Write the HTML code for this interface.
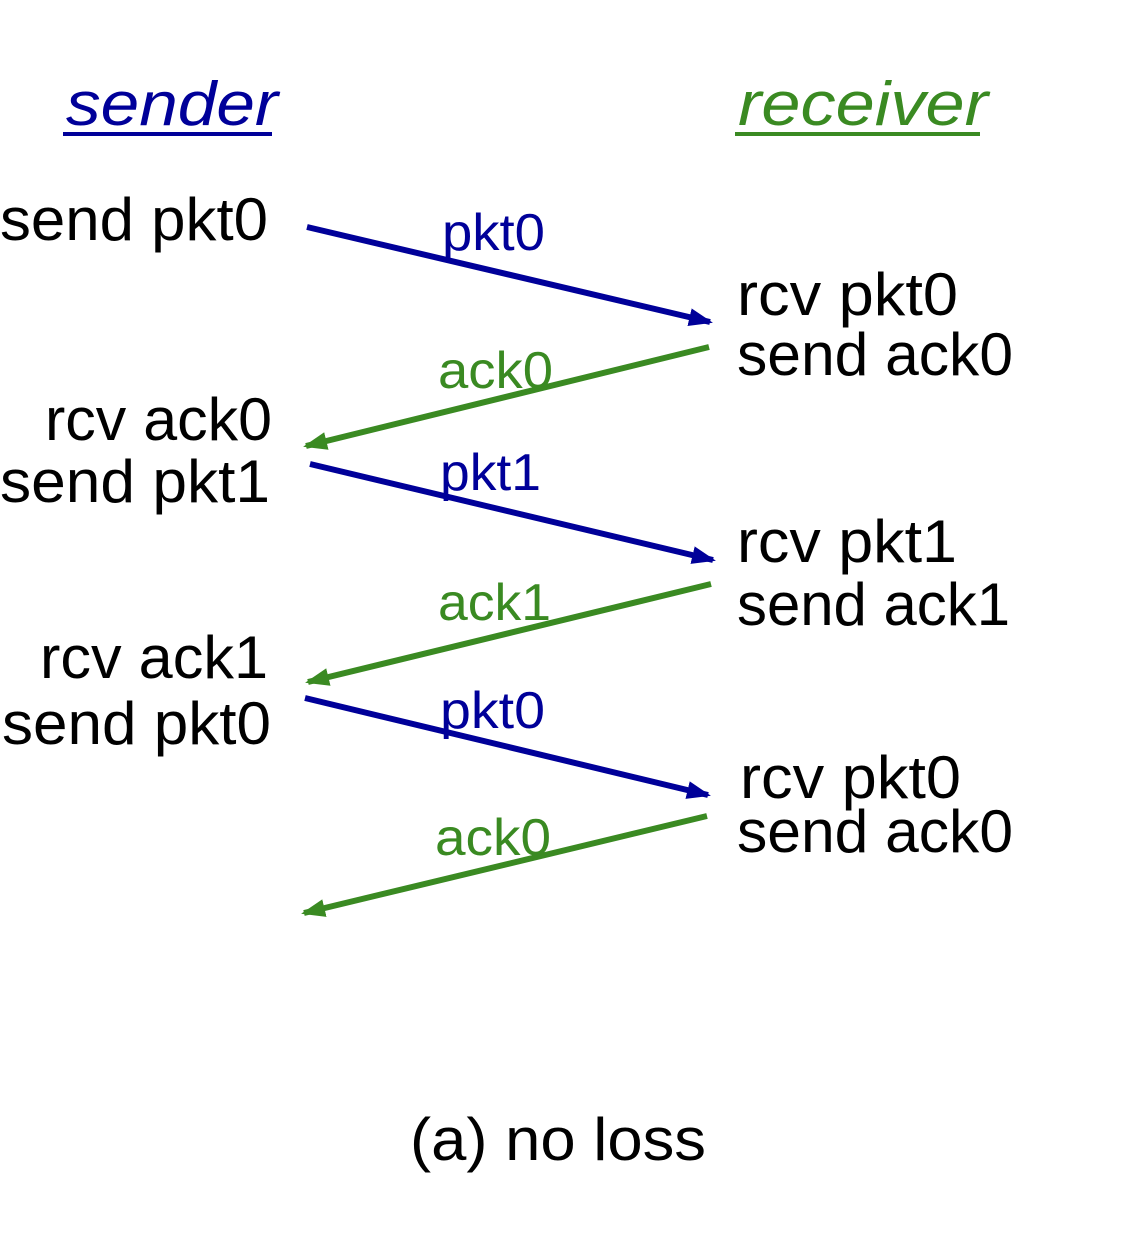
<!DOCTYPE html>
<html><head><meta charset="utf-8"><style>
html,body{margin:0;padding:0;background:#fff;}
svg{display:block;}
text{font-family:"Liberation Sans",sans-serif;}
</style></head><body>
<svg width="1122" height="1244" viewBox="0 0 1122 1244" xmlns="http://www.w3.org/2000/svg">
<defs>
<marker id="hb" markerWidth="4" markerHeight="3" refX="3.5" refY="1.5" orient="auto" markerUnits="strokeWidth"><path d="M0,0 L4,1.5 L0,3 Z" fill="#000099"/></marker>
<marker id="hg" markerWidth="4" markerHeight="3" refX="3.5" refY="1.5" orient="auto" markerUnits="strokeWidth"><path d="M0,0 L4,1.5 L0,3 Z" fill="#3a8a22"/></marker>
</defs>
<text x="66" y="125" font-size="62" font-style="italic" fill="#000099" textLength="212" lengthAdjust="spacingAndGlyphs">sender</text>
<line x1="63" y1="134" x2="272" y2="134" stroke="#000099" stroke-width="4"/>
<text x="738" y="125" font-size="62" font-style="italic" fill="#3a8a22" textLength="250" lengthAdjust="spacingAndGlyphs">receiver</text>
<line x1="735" y1="134" x2="980" y2="134" stroke="#3a8a22" stroke-width="4"/>

<g font-size="60" fill="#000">
<text x="0" y="240" textLength="268" lengthAdjust="spacingAndGlyphs">send pkt0</text>
<text x="45" y="440" textLength="227" lengthAdjust="spacingAndGlyphs">rcv ack0</text>
<text x="0" y="502" textLength="270" lengthAdjust="spacingAndGlyphs">send pkt1</text>
<text x="40" y="678" textLength="228" lengthAdjust="spacingAndGlyphs">rcv ack1</text>
<text x="2" y="744" textLength="269" lengthAdjust="spacingAndGlyphs">send pkt0</text>
<text x="737" y="315" textLength="221" lengthAdjust="spacingAndGlyphs">rcv pkt0</text>
<text x="737" y="375" textLength="276" lengthAdjust="spacingAndGlyphs">send ack0</text>
<text x="737" y="562" textLength="220" lengthAdjust="spacingAndGlyphs">rcv pkt1</text>
<text x="737" y="625" textLength="273" lengthAdjust="spacingAndGlyphs">send ack1</text>
<text x="740" y="798" textLength="221" lengthAdjust="spacingAndGlyphs">rcv pkt0</text>
<text x="737" y="852" textLength="276" lengthAdjust="spacingAndGlyphs">send ack0</text>
<text x="410" y="1160" textLength="296" lengthAdjust="spacingAndGlyphs">(a) no loss</text>
</g>

<g stroke-width="6" fill="none">
<line x1="307" y1="227" x2="710" y2="322" stroke="#000099" marker-end="url(#hb)"/>
<line x1="709" y1="347" x2="306" y2="446" stroke="#3a8a22" marker-end="url(#hg)"/>
<line x1="310" y1="464" x2="713" y2="560" stroke="#000099" marker-end="url(#hb)"/>
<line x1="711" y1="584" x2="308" y2="682" stroke="#3a8a22" marker-end="url(#hg)"/>
<line x1="305" y1="698" x2="708" y2="795" stroke="#000099" marker-end="url(#hb)"/>
<line x1="707" y1="816" x2="304" y2="913" stroke="#3a8a22" marker-end="url(#hg)"/>
</g>

<g font-size="52">
<text x="442" y="250" fill="#000099" textLength="103" lengthAdjust="spacingAndGlyphs">pkt0</text>
<text x="438" y="388" fill="#3a8a22" textLength="115" lengthAdjust="spacingAndGlyphs">ack0</text>
<text x="440" y="490" fill="#000099" textLength="101" lengthAdjust="spacingAndGlyphs">pkt1</text>
<text x="438" y="620" fill="#3a8a22" textLength="113" lengthAdjust="spacingAndGlyphs">ack1</text>
<text x="440" y="728" fill="#000099" textLength="105" lengthAdjust="spacingAndGlyphs">pkt0</text>
<text x="435" y="855" fill="#3a8a22" textLength="116" lengthAdjust="spacingAndGlyphs">ack0</text>
</g>
</svg>
</body></html>
